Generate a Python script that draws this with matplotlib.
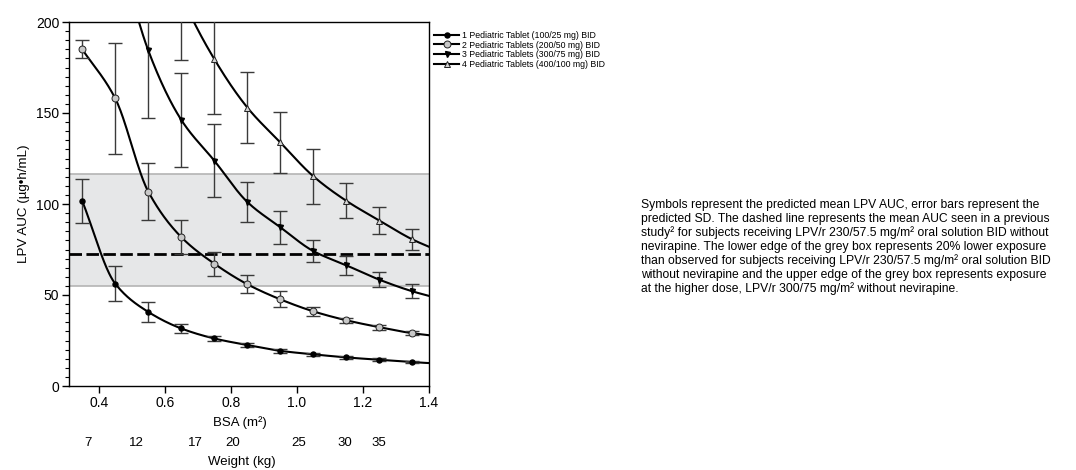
import numpy as np
import matplotlib.pyplot as plt
from matplotlib.lines import Line2D

# BSA (m2) at which the model was evaluated
bsa = [0.35, 0.45, 0.55, 0.65, 0.75, 0.85, 0.95, 1.05, 1.15, 1.25, 1.35]

# mean LPV AUC and SD per regimen (values above 200 are off the chart)
auc_1 = [101.7, 56.2, 40.7, 31.6, 26.1, 22.5, 19.3, 17.4, 15.7, 14.4, 13.1]
sd_1 = [12.0, 9.5, 5.5, 2.4, 1.6, 1.3, 1.0, 0.9, 0.8, 0.8, 0.7]
auc_2 = [185.0, 158.0, 106.8, 81.8, 67.2, 55.9, 47.6, 41.0, 36.1, 32.3, 29.0]
sd_2 = [5.0, 30.5, 15.7, 9.5, 6.6, 5.0, 4.4, 2.4, 1.5, 1.4, 1.0]
auc_3 = [330.0, 250.0, 184.4, 146.2, 123.8, 101.1, 87.2, 74.1, 66.3, 58.4, 52.0]
sd_3 = [60.0, 45.0, 37.4, 25.8, 19.9, 11.0, 9.2, 5.9, 5.1, 4.1, 3.8]
auc_4 = [420.0, 330.0, 268.0, 215.0, 179.6, 153.0, 133.8, 115.2, 101.7, 90.9, 80.5]
sd_4 = [70.0, 60.0, 45.0, 36.0, 30.3, 19.6, 16.9, 15.1, 9.6, 7.4, 5.5]
# where each curve meets the right edge (BSA 1.4)
edge_bsa = 1.4
auc_edge = [12.6, 27.9, 49.5, 76.5]

labels = ['1 Pediatric Tablet (100/25 mg) BID',
          '2 Pediatric Tablets (200/50 mg) BID',
          '3 Pediatric Tablets (300/75 mg) BID',
          '4 Pediatric Tablets (400/100 mg) BID']

# reference exposure
box_low = 55.0
box_high = 116.5
mean_prev = 72.8

# weight scale under the BSA axis
weight_kg = ['7', '12', '17', '20', '25', '30', '35']
weight_bsa = [0.367, 0.515, 0.694, 0.806, 1.006, 1.145, 1.248]

note = ("Symbols represent the predicted mean LPV AUC, error bars represent the\n"
        "predicted SD. The dashed line represents the mean AUC seen in a previous\n"
        "study\u00b2 for subjects receiving LPV/r 230/57.5 mg/m\u00b2 oral solution BID without\n"
        "nevirapine. The lower edge of the grey box represents 20% lower exposure\n"
        "than observed for subjects receiving LPV/r 230/57.5 mg/m\u00b2 oral solution BID\n"
        "without nevirapine and the upper edge of the grey box represents exposure\n"
        "at the higher dose, LPV/r 300/75 mg/m\u00b2 without nevirapine.")


def pchip(x, y, xs):
    # monotone cubic through the points, just for drawing a smooth curve
    x = np.asarray(x, float)
    y = np.asarray(y, float)
    h = np.diff(x)
    d = np.diff(y) / h
    n = len(x)
    m = np.zeros(n)
    m[0] = d[0]
    m[-1] = d[-1]
    for k in range(1, n - 1):
        if d[k - 1] * d[k] > 0:
            w1 = 2 * h[k] + h[k - 1]
            w2 = h[k] + 2 * h[k - 1]
            m[k] = (w1 + w2) / (w1 / d[k - 1] + w2 / d[k])
    idx = np.clip(np.searchsorted(x, xs) - 1, 0, n - 2)
    t = (xs - x[idx]) / h[idx]
    h00 = 2 * t**3 - 3 * t**2 + 1
    h10 = t**3 - 2 * t**2 + t
    h01 = -2 * t**3 + 3 * t**2
    h11 = t**3 - t**2
    return h00 * y[idx] + h10 * h[idx] * m[idx] + h01 * y[idx + 1] + h11 * h[idx] * m[idx + 1]


plt.rcParams['font.family'] = ['Liberation Sans', 'DejaVu Sans']

fig = plt.figure(figsize=(10.76, 4.70), dpi=100)
ax = fig.add_axes([69 / 1076, 1 - 386 / 470, 360 / 1076, 364 / 470])

ax.axhspan(box_low, box_high, color='#e6e7e8', lw=0, zorder=0)
ax.axhline(box_low, color='#b4b4b4', lw=1.2, zorder=1)
ax.axhline(box_high, color='#b4b4b4', lw=1.2, zorder=1)
ax.axhline(mean_prev, color='black', lw=2, dashes=(4.5, 1.6), zorder=2)

styles = [dict(marker='o', ms=3.6, mfc='black', mec='black'),
          dict(marker='o', ms=5, mfc='#c8c8c8', mec='#222222', mew=0.7),
          dict(marker='v', ms=3.6, mfc='black', mec='black'),
          dict(marker='^', ms=5, mfc='#d4d4d4', mec='#222222', mew=0.7)]

series = [(auc_1, sd_1), (auc_2, sd_2), (auc_3, sd_3), (auc_4, sd_4)]
handles = []
for i, (auc, sd) in enumerate(series):
    xs_node = bsa + [edge_bsa]
    ys_node = auc + [auc_edge[i]]
    xx = np.linspace(bsa[0], edge_bsa, 400)
    ax.plot(xx, pchip(xs_node, ys_node, xx), color='black', lw=1.5, zorder=3)
    ax.errorbar(bsa, auc, yerr=sd, fmt='none', ecolor='#3a3a3a', elinewidth=1.0,
                capsize=5, capthick=1.0, zorder=4)
    ax.plot(bsa, auc, ls='none', zorder=5, **styles[i])
    handles.append(Line2D([], [], color='black', lw=1.5, **styles[i]))

ax.set_xlim(0.31, 1.4)
ax.set_ylim(0, 200)
ax.set_xticks([0.4, 0.6, 0.8, 1.0, 1.2, 1.4])
ax.set_xticklabels(['0.4', '0.6', '0.8', '1.0', '1.2', '1.4'])
ax.set_yticks([0, 50, 100, 150, 200])
ax.set_yticks(np.arange(0, 201, 5), minor=True)
ax.tick_params(axis='both', which='major', direction='out', length=5, width=1,
               labelsize=10, pad=2)
ax.tick_params(axis='y', which='minor', direction='out', length=3, width=0.8)
for s in ax.spines.values():
    s.set_linewidth(1)

ax.set_ylabel('LPV AUC (\u00b5g\u2022h/mL)', fontsize=9.6, labelpad=4)

fig.text(240 / 1076, 1 - 423 / 470, 'BSA (m\u00b2)', ha='center', va='center', fontsize=9.5)
for w, b in zip(weight_kg, weight_bsa):
    ax.text(b, -0.157, w, transform=ax.get_xaxis_transform(), ha='center',
            va='center', fontsize=9.5)
fig.text(242 / 1076, 1 - 462 / 470, 'Weight (kg)', ha='center', va='center', fontsize=9.5)

fig.legend(handles, labels, loc='upper left', bbox_to_anchor=(434 / 1076, 1 - 31 / 470),
           frameon=False, fontsize=6.3, handlelength=2.9, handletextpad=0.3,
           labelspacing=0.06, borderpad=0, borderaxespad=0)

fig.text(641 / 1076, 1 - 199 / 470, note, ha='left', va='top', fontsize=8.75,
         linespacing=1.17)

fig.savefig('out.png', dpi=100)
